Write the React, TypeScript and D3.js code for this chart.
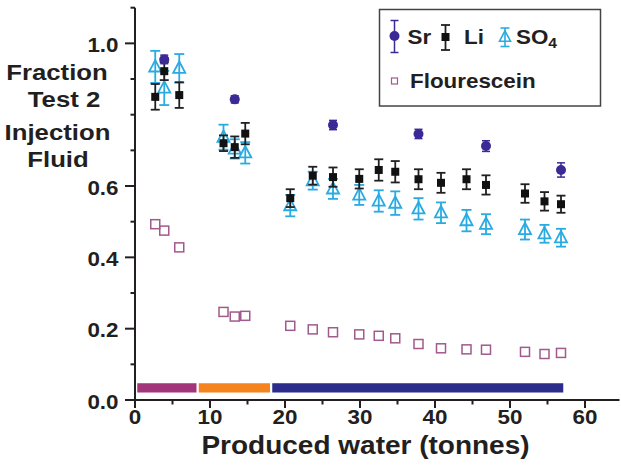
import React from "react";
import * as d3 from "d3";

// Produced water (tonnes) at each sampling point
const samples = [2.7, 3.9, 5.9, 11.8, 13.3, 14.7, 20.7, 23.7, 26.4, 29.9, 32.5, 34.7, 37.8, 40.8, 44.2, 46.8, 52.0, 54.6, 56.8];

// Fraction of test-2 injection fluid
const liValues = [0.85, 0.922, 0.855, 0.72, 0.709, 0.747, 0.566, 0.629, 0.625, 0.62, 0.645, 0.64, 0.619, 0.609, 0.619, 0.603, 0.579, 0.557, 0.549];
const liErrors = [0.036, 0.025, 0.036, 0.022, 0.03, 0.03, 0.025, 0.025, 0.027, 0.027, 0.03, 0.03, 0.028, 0.028, 0.028, 0.027, 0.026, 0.026, 0.024];

const so4Values = [0.934, 0.875, 0.93, 0.737, 0.704, 0.693, 0.545, 0.615, 0.592, 0.575, 0.558, 0.552, 0.536, 0.525, 0.503, 0.493, 0.478, 0.466, 0.455];
const so4Errors = [0.045, 0.048, 0.04, 0.035, 0.027, 0.03, 0.03, 0.025, 0.028, 0.028, 0.03, 0.033, 0.03, 0.029, 0.03, 0.028, 0.028, 0.025, 0.025];

const srSamples = [3.9, 13.3, 26.4, 37.8, 46.8, 56.8];
const srValues = [0.955, 0.843, 0.771, 0.746, 0.712, 0.645];
const srErrors = [0.012, 0.01, 0.013, 0.013, 0.015, 0.02];

const fluoresceinValues = [0.493, 0.475, 0.428, 0.247, 0.234, 0.236, 0.208, 0.198, 0.19, 0.184, 0.18, 0.173, 0.157, 0.145, 0.142, 0.141, 0.135, 0.129, 0.132];

// Production phases shown as a coloured band along the x axis
const phaseStarts = [0.3, 8.5, 18.3];
const phaseEnds = [8.2, 18.0, 57.1];
const phaseColors = ["#a3367a", "#f5841f", "#2b2c8c"];

const xTicks = [0, 10, 20, 30, 40, 50, 60];
const xMinorTicks = [5, 15, 25, 35, 45, 55];
const yTickLabels = ["0.0", "0.2", "0.4", "0.6", "1.0"];
const yMinorTicks = [0.1, 0.3, 0.5, 0.7, 0.8, 0.9, 1.1];

const W = 621;
const H = 473;
const INK = "#231f20";
const FONT = "'Liberation Sans', Arial, Helvetica, sans-serif";
const SR = "#3b2a96";
const SO4 = "#29abe2";
const FLUO = "#a05a8c";

const x = d3.scaleLinear().domain([0, 64.6]).range([135, 619.5]);
const y = d3.scaleLinear().domain([0, 1.1]).range([400, 7.7]);

function T({ x: tx, y: ty, anchor = "start", size = 20, children }: any) {
  return (
    <text
      transform={`translate(${tx},${ty}) scale(1.12,1)`}
      textAnchor={anchor}
      fontSize={size}
      fontWeight="bold"
      fontFamily={FONT}
      fill={INK}
    >
      {children}
    </text>
  );
}

function ErrorBar({ cx, lo, hi, color, cap = 5, width = 1.6 }: any) {
  return (
    <g stroke={color} strokeWidth={width} fill="none">
      <line x1={cx} x2={cx} y1={lo} y2={hi} />
      <line x1={cx - cap} x2={cx + cap} y1={lo} y2={lo} />
      <line x1={cx - cap} x2={cx + cap} y1={hi} y2={hi} />
    </g>
  );
}

const triPath = (cx: number, cy: number, s: number) =>
  `M${cx},${cy - s * 0.62}L${cx + s * 0.55},${cy + s * 0.42}L${cx - s * 0.55},${cy + s * 0.42}Z`;

export default function App() {
  const yTickValues = yTickLabels.map(Number);
  return (
    <svg width={W} height={H} style={{ position: "absolute", left: 0, top: 0, background: "#fff" }}>
      {/* phase band */}
      {phaseStarts.map((s, i) => (
        <rect
          key={"ph" + i}
          x={x(s)}
          width={x(phaseEnds[i]) - x(s)}
          y={y(0.047)}
          height={y(0.021) - y(0.047)}
          fill={phaseColors[i]}
        />
      ))}

      {/* axes */}
      <g stroke={INK} strokeWidth={2}>
        <line x1={x(0)} x2={x(64.6)} y1={y(0)} y2={y(0)} />
        <line x1={x(0)} x2={x(0)} y1={y(0)} y2={y(1.1)} />
        {xTicks.map((t) => (
          <line key={"xt" + t} x1={x(t)} x2={x(t)} y1={y(0)} y2={y(0) + 8} />
        ))}
        {xMinorTicks.map((t) => (
          <line key={"xm" + t} x1={x(t)} x2={x(t)} y1={y(0)} y2={y(0) + 4.5} />
        ))}
        {yTickValues.map((t) => (
          <line key={"yt" + t} x1={x(0) - 10} x2={x(0)} y1={y(t)} y2={y(t)} />
        ))}
        {yMinorTicks.map((t) => (
          <line key={"ym" + t} x1={x(0) - 4.5} x2={x(0)} y1={y(t)} y2={y(t)} />
        ))}
      </g>
      {xTicks.map((t) => (
        <T key={"xl" + t} x={x(t)} y={424} anchor="middle" size={20}>
          {t}
        </T>
      ))}
      {yTickLabels.map((l, i) => (
        <T key={"yl" + l} x={118.5} y={y(yTickValues[i]) + 8.5} anchor="end" size={20}>
          {l}
        </T>
      ))}
      <T x={365.5} y={453.5} anchor="middle" size={25}>
        Produced water (tonnes)
      </T>
      <T x={57} y={80} anchor="middle" size={23}>Fraction</T>
      <T x={64} y={106.5} anchor="middle" size={23}>Test 2</T>
      <T x={57.5} y={139.5} anchor="middle" size={23}>Injection</T>
      <T x={58} y={166.5} anchor="middle" size={23}>Fluid</T>

      {/* Flourescein */}
      {samples.map((s, i) => (
        <rect
          key={"f" + i}
          x={x(s) - 4.5}
          y={y(fluoresceinValues[i]) - 4.5}
          width={9}
          height={9}
          fill="none"
          stroke={FLUO}
          strokeWidth={1.5}
        />
      ))}

      {/* SO4 */}
      {samples.map((s, i) => (
        <g key={"s" + i}>
          <ErrorBar cx={x(s)} lo={y(so4Values[i] - so4Errors[i])} hi={y(so4Values[i] + so4Errors[i])} color={SO4} cap={5} width={1.8} />
          <path d={triPath(x(s), y(so4Values[i]), 11)} fill="#fff" fillOpacity={0} stroke={SO4} strokeWidth={1.8} />
        </g>
      ))}

      {/* Li */}
      {samples.map((s, i) => (
        <g key={"l" + i}>
          <ErrorBar cx={x(s)} lo={y(liValues[i] - liErrors[i])} hi={y(liValues[i] + liErrors[i])} color={INK} cap={4.5} width={1.8} />
          <rect x={x(s) - 4} y={y(liValues[i]) - 4} width={8} height={8} fill="#111" />
        </g>
      ))}

      {/* Sr */}
      {srSamples.map((s, i) => (
        <g key={"r" + i}>
          <ErrorBar cx={x(s)} lo={y(srValues[i] - srErrors[i])} hi={y(srValues[i] + srErrors[i])} color={SR} cap={4} width={1.5} />
          <circle cx={x(s)} cy={y(srValues[i])} r={5} fill={SR} />
        </g>
      ))}

      {/* legend */}
      <rect x={379.5} y={9.5} width={221} height={96.5} fill="#fff" stroke="#444" strokeWidth={1.5} />
      <ErrorBar cx={394.5} lo={52.5} hi={20.5} color={SR} cap={4} width={1.5} />
      <circle cx={394.5} cy={36} r={5} fill={SR} />
      <T x={407.5} y={43.5} size={20}>Sr</T>
      <ErrorBar cx={445.5} lo={50} hi={25} color={INK} cap={4.5} width={1.8} />
      <rect x={441.5} y={33} width={8} height={8} fill="#111" />
      <T x={464} y={43.5} size={20}>Li</T>
      <ErrorBar cx={505} lo={46.5} hi={28} color={SO4} cap={4.5} width={1.6} />
      <path d={triPath(505, 37, 10)} fill="none" stroke={SO4} strokeWidth={1.6} />
      <T x={516} y={43.5} size={20}>
        SO
        <tspan dy={4} fontSize={14}>4</tspan>
      </T>
      <rect x={391.5} y={78} width={6} height={6} fill="none" stroke={FLUO} strokeWidth={1.2} />
      <T x={410} y={87.5} size={20}>Flourescein</T>
    </svg>
  );
}
